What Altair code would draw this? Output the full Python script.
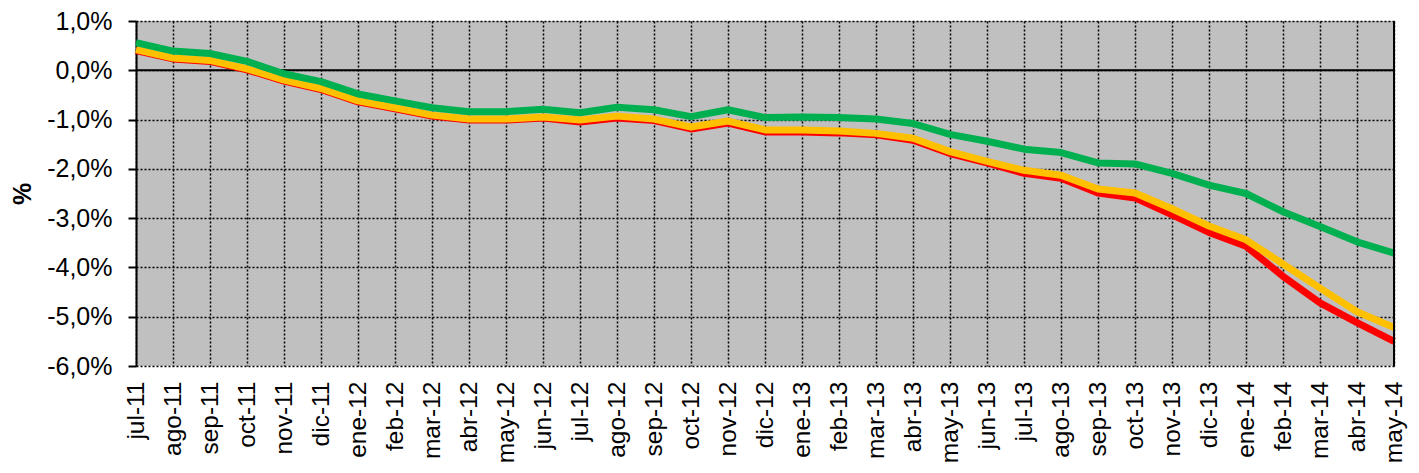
import altair as alt
import pandas as pd

months = ["jul-11", "ago-11", "sep-11", "oct-11", "nov-11", "dic-11",
          "ene-12", "feb-12", "mar-12", "abr-12", "may-12", "jun-12",
          "jul-12", "ago-12", "sep-12", "oct-12", "nov-12", "dic-12",
          "ene-13", "feb-13", "mar-13", "abr-13", "may-13", "jun-13",
          "jul-13", "ago-13", "sep-13", "oct-13", "nov-13", "dic-13",
          "ene-14", "feb-14", "mar-14", "abr-14", "may-14"]

red = [0.40, 0.23, 0.18, 0.01, -0.22, -0.39, -0.64, -0.78, -0.93, -1.01,
       -1.01, -0.97, -1.05, -0.97, -1.02, -1.19, -1.07, -1.25, -1.25, -1.27,
       -1.31, -1.42, -1.69, -1.88, -2.09, -2.19, -2.49, -2.59, -2.93, -3.29,
       -3.57, -4.18, -4.72, -5.12, -5.50]

orange = [0.42, 0.25, 0.20, 0.03, -0.20, -0.37, -0.62, -0.76, -0.91, -0.99,
          -0.99, -0.95, -1.01, -0.93, -0.99, -1.15, -1.03, -1.21, -1.21, -1.23,
          -1.28, -1.38, -1.65, -1.85, -2.03, -2.13, -2.41, -2.49, -2.81, -3.16,
          -3.44, -3.93, -4.42, -4.90, -5.22]

green = [0.56, 0.39, 0.34, 0.18, -0.07, -0.23, -0.48, -0.62, -0.76, -0.84,
         -0.84, -0.79, -0.86, -0.75, -0.80, -0.94, -0.80, -0.96, -0.95, -0.96,
         -0.99, -1.08, -1.30, -1.44, -1.60, -1.67, -1.88, -1.90, -2.09, -2.33,
         -2.50, -2.87, -3.17, -3.48, -3.71]

y_ticks = [1, 0, -1, -2, -3, -4, -5, -6]

rows = []
for name, vals in [("red", red), ("orange", orange), ("green", green)]:
    for m, v in zip(months, vals):
        rows.append({"mes": m, "serie": name, "valor": v})
df = pd.DataFrame(rows)

W, H = 1258, 345
FONT = "Liberation Sans"

x_enc = alt.X("mes:N", sort=months,
              scale=alt.Scale(type="point", padding=0),
              axis=alt.Axis(title=None, labelAngle=-90, labelFontSize=24.5,
                            labelFont=FONT, labelColor="black", labelPadding=15,
                            ticks=False, domain=False, grid=True,
                            gridColor="black", gridDash=[2, 2], gridWidth=1.5,
                            gridOpacity=1, labelOverlap=False))
y_scale = alt.Scale(domain=[-6, 1], nice=False, zero=False)
y_enc_axis = alt.Axis(title="%", titleFontSize=25, titleFont=FONT,
                      titleFontWeight="bold", titleColor="black", titlePadding=11,
                      values=y_ticks, labelFontSize=25, labelFont=FONT,
                      labelColor="black", labelPadding=16, tickSize=8,
                      tickColor="black", tickWidth=2, domainColor="black",
                      domainWidth=2, grid=True, gridColor="black",
                      gridDash=[2, 2], gridWidth=1.5, gridOpacity=1,
                      labelExpr="(datum.value < 0 ? '-' : '') + replace(format(abs(datum.value), '.1f'), '.', ',') + '%'")

base = alt.Chart(df)

lines = []
for name, color in [("red", "#FF0000"), ("orange", "#FFC000"), ("green", "#00B050")]:
    lines.append(
        base.transform_filter(alt.datum.serie == name)
        .mark_line(color=color, strokeWidth=7, strokeJoin="round", strokeCap="butt")
        .encode(x=x_enc, y=alt.Y("valor:Q", scale=y_scale, axis=y_enc_axis))
    )

zero = pd.DataFrame({"v": [0]})
zero_rule = alt.Chart(zero).mark_rule(color="black", strokeWidth=2).encode(
    y=alt.Y("v:Q", scale=y_scale, axis=y_enc_axis)
)
right_border = alt.Chart(zero).mark_rule(color="black", strokeWidth=2).encode(
    x=alt.value(W), y=alt.value(0), y2=alt.value(H)
)

chart = alt.layer(zero_rule, *lines, right_border).properties(
    width=W, height=H,
    autosize=alt.AutoSizeParams(type="none"),
    padding={"left": 128, "top": 13, "right": 17, "bottom": 107},
    background="white",
).configure_view(fill="#C0C0C0", stroke=None)

chart.save("out.html", embed_options={"renderer": "svg", "actions": False})
